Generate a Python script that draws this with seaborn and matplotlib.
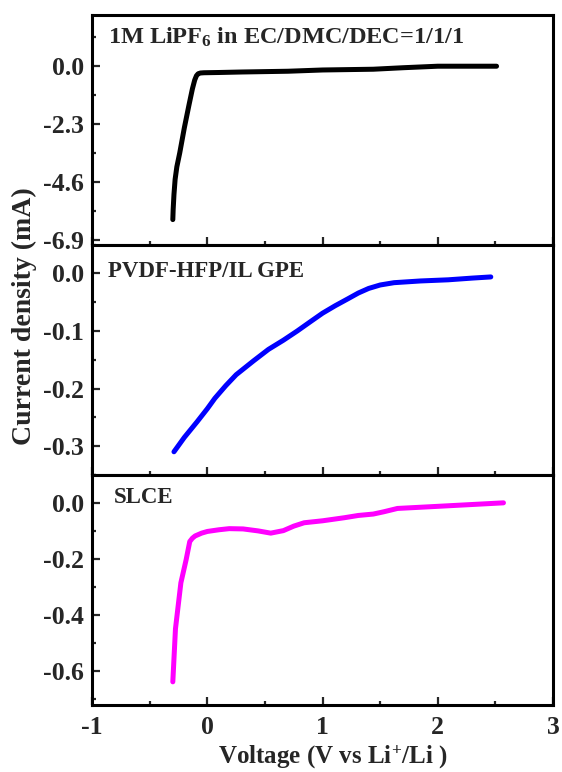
import numpy as np
import pandas as pd
import seaborn as sns
import matplotlib.pyplot as plt
from matplotlib.ticker import MultipleLocator, FuncFormatter

# Linear sweep data: voltage (V vs Li+/Li) and current (mA)

# 1M LiPF6 in EC/DMC/DEC=1/1/1
liq_v = [-0.30, -0.297, -0.29, -0.28, -0.265, -0.24, -0.20, -0.16, -0.13, -0.11,
         -0.095, -0.08, -0.06, -0.03, 0.10, 0.30, 0.70, 1.00, 1.44, 1.70, 2.00, 2.30, 2.51]
liq_i = [-6.10, -5.70, -5.10, -4.50, -4.00, -3.45, -2.45, -1.55, -0.90, -0.55,
         -0.38, -0.30, -0.27, -0.26, -0.25, -0.23, -0.20, -0.15, -0.12, -0.06, 0.00, 0.00, 0.00]

# PVDF-HFP/IL GPE
gpe_v = [-0.29, -0.20, -0.09, 0.00, 0.065, 0.16, 0.25, 0.40, 0.53, 0.66, 0.78, 0.90,
         1.00, 1.11, 1.22, 1.31, 1.40, 1.50, 1.62, 1.85, 2.09, 2.30, 2.46]
gpe_i = [-0.310, -0.285, -0.258, -0.235, -0.217, -0.195, -0.176, -0.152, -0.132, -0.116,
         -0.100, -0.083, -0.069, -0.056, -0.044, -0.034, -0.026, -0.020, -0.016, -0.013,
         -0.011, -0.008, -0.006]

# SLCE
slce_v = [-0.30, -0.277, -0.23, -0.184, -0.153, -0.13, -0.106, -0.05, 0.00, 0.10, 0.19,
          0.31, 0.44, 0.55, 0.66, 0.75, 0.84, 1.00, 1.19, 1.31, 1.44, 1.53, 1.65, 1.93,
          2.25, 2.57]
slce_i = [-0.638, -0.449, -0.285, -0.202, -0.138, -0.126, -0.118, -0.108, -0.102, -0.096,
          -0.092, -0.093, -0.100, -0.108, -0.099, -0.083, -0.071, -0.064, -0.053, -0.045,
          -0.040, -0.032, -0.020, -0.014, -0.007, 0.000]

panels = [
    (liq_v, liq_i, 'black', r'1M LiPF$_6$ in EC/DMC/DEC=1/1/1', (-7.1, 2.05), 2.3, 1.15),
    (gpe_v, gpe_i, '#0000ff', 'PVDF-HFP/IL GPE', (-0.35, 0.05), 0.1, 0.05),
    (slce_v, slce_i, '#ff00ff', 'SLCE', (-0.72, 0.10), 0.2, 0.1),
]
text_pos = [(0.035, 0.90), (0.035, 0.884), (0.048, 0.90)]
text_size = [17.5, 16.5, 16.5]

sns.set_theme(style='ticks')
plt.rcParams['font.family'] = ['Liberation Serif', 'DejaVu Serif']
plt.rcParams['font.weight'] = 'bold'
plt.rcParams['mathtext.fontset'] = 'custom'
plt.rcParams['mathtext.rm'] = 'Liberation Serif:bold'
plt.rcParams['mathtext.it'] = 'Liberation Serif:bold'
plt.rcParams['mathtext.bf'] = 'Liberation Serif:bold'

fig, axes = plt.subplots(3, 1, figsize=(5.62, 7.72), dpi=100, sharex=True)
fig.subplots_adjust(left=0.164, right=0.984, top=0.981, bottom=0.087, hspace=0)


def fmt_y(val, pos):
    s = f'{val:.1f}'
    return '0.0' if s == '-0.0' else s


for ax, (xs, ys, color, label, ylim, major, minor), (tx, ty), ts in zip(axes, panels, text_pos, text_size):
    df = pd.DataFrame({'voltage': xs, 'current': ys})
    sns.lineplot(data=df, x='voltage', y='current', ax=ax, color=color,
                 lw=3.6, sort=False, estimator=None)
    ax.set_xlim(-1, 3)
    ax.set_ylim(*ylim)
    ax.xaxis.set_major_locator(MultipleLocator(1))
    ax.xaxis.set_minor_locator(MultipleLocator(0.5))
    ax.yaxis.set_major_locator(MultipleLocator(major))
    ax.yaxis.set_minor_locator(MultipleLocator(minor))
    ax.yaxis.set_major_formatter(FuncFormatter(fmt_y))
    ax.tick_params(which='both', direction='in', top=False, right=False, width=1.6)
    ax.tick_params(which='major', length=6, labelsize=18.5, pad=6)
    ax.tick_params(which='minor', length=3)
    for sp in ax.spines.values():
        sp.set_linewidth(2.2)
        sp.set_color('black')
    ax.set_xlabel('')
    ax.set_ylabel('')
    ax.text(tx, ty, label, transform=ax.transAxes, fontsize=ts, fontweight='bold',
            ha='left', va='center')

axes[-1].xaxis.set_major_formatter(FuncFormatter(lambda v, p: f'{v:.0f}'))
axes[-1].tick_params(axis='x', pad=8)

fig.text(24 / 562, 1 - 316 / 772, 'Current density (mA)', rotation=90,
         ha='center', va='center', fontsize=20, fontweight='bold')
fig.text(333 / 562, 1 - 757 / 772, r'Voltage (V vs Li$^{+}$/Li )',
         ha='center', va='center', fontsize=18, fontweight='bold')

fig.savefig('out.png', dpi=100)
